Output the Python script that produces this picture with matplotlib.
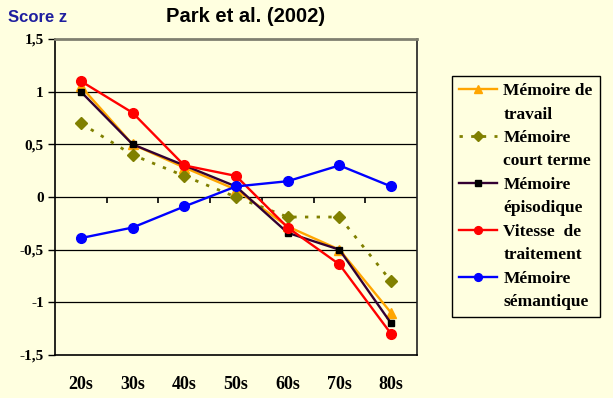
import matplotlib.pyplot as plt
from matplotlib.lines import Line2D

ages = ['20s', '30s', '40s', '50s', '60s', '70s', '80s']
travail = [1.05, 0.5, 0.28, 0.07, -0.28, -0.5, -1.1]
court_terme = [0.7, 0.4, 0.2, 0.0, -0.19, -0.19, -0.8]
episodique = [1.0, 0.5, 0.3, 0.1, -0.34, -0.5, -1.2]
vitesse = [1.1, 0.8, 0.3, 0.2, -0.29, -0.64, -1.3]
semantique = [-0.39, -0.29, -0.09, 0.1, 0.15, 0.3, 0.1]
yticks = [-1.5, -1, -0.5, 0, 0.5, 1, 1.5]
ylabels = ['-1,5', '-1', '-0,5', '0', '0,5', '1', '1,5']

bg = '#ffffe0'
serif = 'Liberation Serif'
sans = 'Liberation Sans'

fig = plt.figure(figsize=(6.13, 3.98), dpi=100, facecolor=bg)
ax = fig.add_axes([55/613, 1-355/398, 362/613, 316/398])
ax.set_facecolor(bg)

x = range(len(ages))
series = [
    (travail, dict(color='#ffa500', marker='^', ms=7, lw=1.7, ls='-', mfc='#ffa500', mec='#ffa500'), 'Mémoire de', 'travail'),
    (court_terme, dict(color='#808000', marker='D', ms=6, lw=2, ls=(0, (1.2, 3)), mfc='#808000', mec='#808000'), 'Mémoire', 'court terme'),
    (episodique, dict(color='#330033', marker='s', ms=5, lw=1.7, ls='-', mfc='black', mec='black'), 'Mémoire', 'épisodique'),
    (vitesse, dict(color='#ff0000', marker='o', ms=7, lw=1.7, ls='-', mfc='#ff0000', mec='#ff0000'), 'Vitesse  de', 'traitement'),
    (semantique, dict(color='#0000ff', marker='o', ms=7, lw=1.7, ls='-', mfc='#0000ff', mec='#0000ff'), 'Mémoire', 'sémantique'),
]
handles, labels = [], []
for vals, st, l1, l2 in series:
    ax.plot(x, vals, zorder=3, **st)
    hst = dict(st)
    hst['ms'] = st['ms'] * 0.8
    handles.append(Line2D([], [], **hst))
    labels.append(l1)
    handles.append(Line2D([], [], ls='none'))
    labels.append(l2)

ax.set_xlim(-0.5, 6.5)
ax.set_ylim(-1.5, 1.5)
for y in [-1, -0.5, 0, 0.5, 1]:
    ax.axhline(y, color='black', lw=0.9, zorder=1)

# category separators hanging below the zero line
bounds = [i + 0.5 for i in range(len(ages) - 1)]
ax.vlines(bounds, -0.057, 0, color='black', lw=1.2, zorder=1)

ax.set_yticks(yticks)
ax.set_yticklabels(ylabels, fontfamily=serif, fontweight='bold', fontsize=11)
ax.tick_params(axis='y', direction='out', length=5, width=1, pad=3)
ax.set_xticks(list(x))
ax.set_xticklabels(ages, fontfamily=serif, fontweight='bold', fontsize=13)
ax.tick_params(axis='x', length=0, pad=15)

for s in ['left', 'bottom']:
    ax.spines[s].set_color('black')
    ax.spines[s].set_linewidth(1.2)
ax.spines['top'].set_color('#808070')
ax.spines['top'].set_linewidth(2)
ax.spines['right'].set_color('#202020')
ax.spines['right'].set_linewidth(1.2)

fig.text(246/613, 1-17/398, 'Park et al. (2002)', ha='center', va='center',
         fontfamily=sans, fontweight='bold', fontsize=14.5)
fig.text(8/613, 1-17/398, 'Score z', ha='left', va='center',
         fontfamily=sans, fontweight='bold', fontsize=12, color='#1f1f9f')

leg = fig.legend(handles, labels, loc='upper left', bbox_to_anchor=(452/613, 1-76/398),
                 prop=dict(family=serif, weight='bold', size=12.5),
                 frameon=True, fancybox=False, edgecolor='black', facecolor=bg,
                 framealpha=1, handlelength=2.2, handletextpad=0.35,
                 labelspacing=0.42, borderpad=0.4, borderaxespad=0)
leg.get_frame().set_linewidth(1)

fig.savefig('out.png', dpi=100, facecolor=bg)
